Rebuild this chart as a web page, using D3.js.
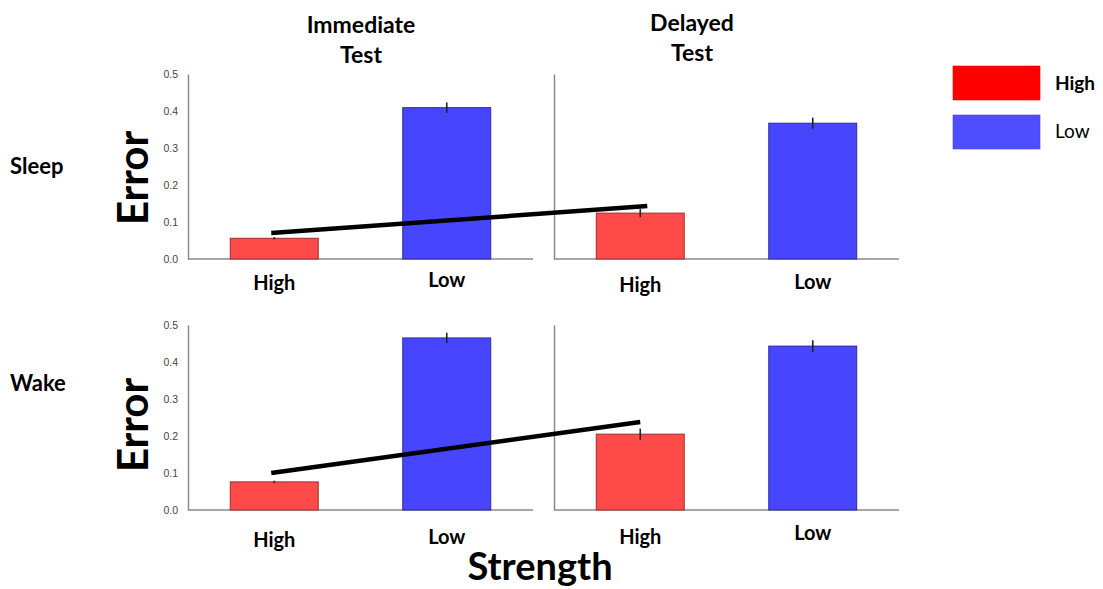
<!DOCTYPE html>
<html>
<head>
<meta charset="utf-8">
<script src="https://cdn.jsdelivr.net/npm/d3@7"></script>
<style>
  html, body { margin: 0; padding: 0; background: #fff; }
  svg { display: block; }
  .lbl { font-family: Lato, "Open Sans", sans-serif; font-weight: 700; fill: #000; }
  .tick text { font-family: "Liberation Sans", Arial, sans-serif; font-size: 10.5px; fill: #444; }
</style>
</head>
<body>
<svg id="chart" width="1103" height="589"></svg>
<script>
// Conditions and categories
const conditions = ["Sleep", "Wake"];
const tests = [["Immediate", "Test"], ["Delayed", "Test"]];
const strengths = ["High", "Low"];
const yTicks = [0.0, 0.1, 0.2, 0.3, 0.4, 0.5];

// Mean error per strength (High, Low) and its standard error
const sleepImmediate = [0.056, 0.409];
const sleepDelayed   = [0.124, 0.367];
const wakeImmediate  = [0.076, 0.465];
const wakeDelayed    = [0.205, 0.443];

const sleepImmediateErr = [0.003, 0.014];
const sleepDelayedErr   = [0.011, 0.015];
const wakeImmediateErr  = [0.003, 0.014];
const wakeDelayedErr    = [0.015, 0.016];

// Trend from immediate to delayed for high-strength items
const sleepTrend = [0.070, 0.143];
const wakeTrend  = [0.100, 0.238];

const legendItems = ["High", "Low"];

const barColor    = { High: "#ff4a4a", Low: "#4845ff" };
const barStroke   = { High: "#9c2e2e", Low: "#2c2aa0" };
const legendColor = { High: "#ff0000", Low: "#4f4dff" };

const rowsData = [
  { name: conditions[0], values: [sleepImmediate, sleepDelayed], errs: [sleepImmediateErr, sleepDelayedErr], trend: sleepTrend,
    y0: 259, nameY: 174, errorY: 178, catY: [[290, 287], [292, 289]] },
  { name: conditions[1], values: [wakeImmediate, wakeDelayed], errs: [wakeImmediateErr, wakeDelayedErr], trend: wakeTrend,
    y0: 510, nameY: 391, errorY: 425, catY: [[547, 544], [544, 540]] }
];

const svg = d3.select("#chart");
const panelX = [188, 554];
const panelW = 345;
const panelH = 185;

const x = d3.scaleBand().domain(strengths).range([0, panelW]).paddingInner(0.49).paddingOuter(0.245);

// Column titles
tests.forEach((lines, i) => {
  const cx = i === 0 ? 361 : 692;
  const t = svg.append("text").attr("class", "lbl").attr("text-anchor", "middle")
    .attr("x", cx).attr("y", i === 0 ? 33 : 31).style("font-size", "23px");
  lines.forEach((s, k) => t.append("tspan").attr("x", cx).attr("dy", k === 0 ? 0 : 30).text(s));
});

rowsData.forEach(row => {
  const y = d3.scaleLinear().domain([0, 0.5]).range([row.y0, row.y0 - panelH]);

  // Row label
  svg.append("text").attr("class", "lbl").attr("x", 10).attr("y", row.nameY)
    .style("font-size", "22px").text(row.name);

  // Y axis title
  svg.append("text").attr("class", "lbl").attr("text-anchor", "middle")
    .attr("transform", `translate(148,${row.errorY}) rotate(-90)`)
    .style("font-size", "42px").text("Error");

  row.values.forEach((vals, p) => {
    const g = svg.append("g").attr("transform", `translate(${panelX[p]},0)`);

    // Axes
    const yAxis = d3.axisLeft(y).tickValues(yTicks).tickFormat(d3.format(".1f")).tickSize(0).tickPadding(10);
    const ya = g.append("g").call(yAxis);
    ya.select(".domain").attr("stroke", "#8a8a8a").attr("stroke-width", 1.5);
    if (p === 1) ya.selectAll(".tick text").remove();

    g.append("line").attr("x1", 0).attr("x2", panelW).attr("y1", y(0)).attr("y2", y(0))
      .attr("stroke", "#8a8a8a").attr("stroke-width", 1.5);

    // Bars
    g.selectAll("rect.bar").data(strengths).join("rect").attr("class", "bar")
      .attr("x", d => x(d)).attr("width", x.bandwidth())
      .attr("y", (d, i) => y(vals[i])).attr("height", (d, i) => y(0) - y(vals[i]))
      .attr("fill", d => barColor[d]).attr("stroke", d => barStroke[d]).attr("stroke-width", 1);

    // Error bars
    g.selectAll("line.err").data(strengths).join("line").attr("class", "err")
      .attr("x1", d => x(d) + x.bandwidth() / 2).attr("x2", d => x(d) + x.bandwidth() / 2)
      .attr("y1", (d, i) => y(vals[i] + row.errs[p][i])).attr("y2", (d, i) => y(vals[i] - row.errs[p][i]))
      .attr("stroke", "#222").attr("stroke-width", 1.6);

    // Category labels
    g.selectAll("text.cat").data(strengths).join("text").attr("class", "cat lbl")
      .attr("text-anchor", "middle").style("font-size", "20px")
      .attr("x", d => x(d) + x.bandwidth() / 2)
      .attr("y", (d, i) => row.catY[p][i]).text(d => d);
  });

  // Trend line linking high-strength bars across tests
  const hx = x("High") + x.bandwidth() / 2;
  const pts = [[panelX[0] + hx - 3, y(row.trend[0])], [panelX[1] + hx + (row.name === "Sleep" ? 7 : 0), y(row.trend[1])]];
  svg.append("path").attr("d", d3.line()(pts)).attr("stroke", "#000").attr("stroke-width", 4.5).attr("fill", "none");
});

// Shared x axis title
svg.append("text").attr("class", "lbl").attr("text-anchor", "middle")
  .attr("x", 540).attr("y", 580).style("font-size", "38px").text("Strength");

// Legend
const lg = svg.append("g");
legendItems.forEach((k, i) => {
  lg.append("rect").attr("x", 953).attr("y", 66 + i * 49).attr("width", 87).attr("height", 34)
    .attr("fill", legendColor[k]).attr("stroke", d3.color(legendColor[k]).darker(0.3)).attr("stroke-width", 0.6);
  lg.append("text").attr("x", 1055).attr("y", 90 + i * 48)
    .style("font-family", "Lato, 'Open Sans', sans-serif").style("font-size", "19px")
    .style("font-weight", i === 0 ? 700 : 400).text(k);
});
</script>
</body>
</html>
